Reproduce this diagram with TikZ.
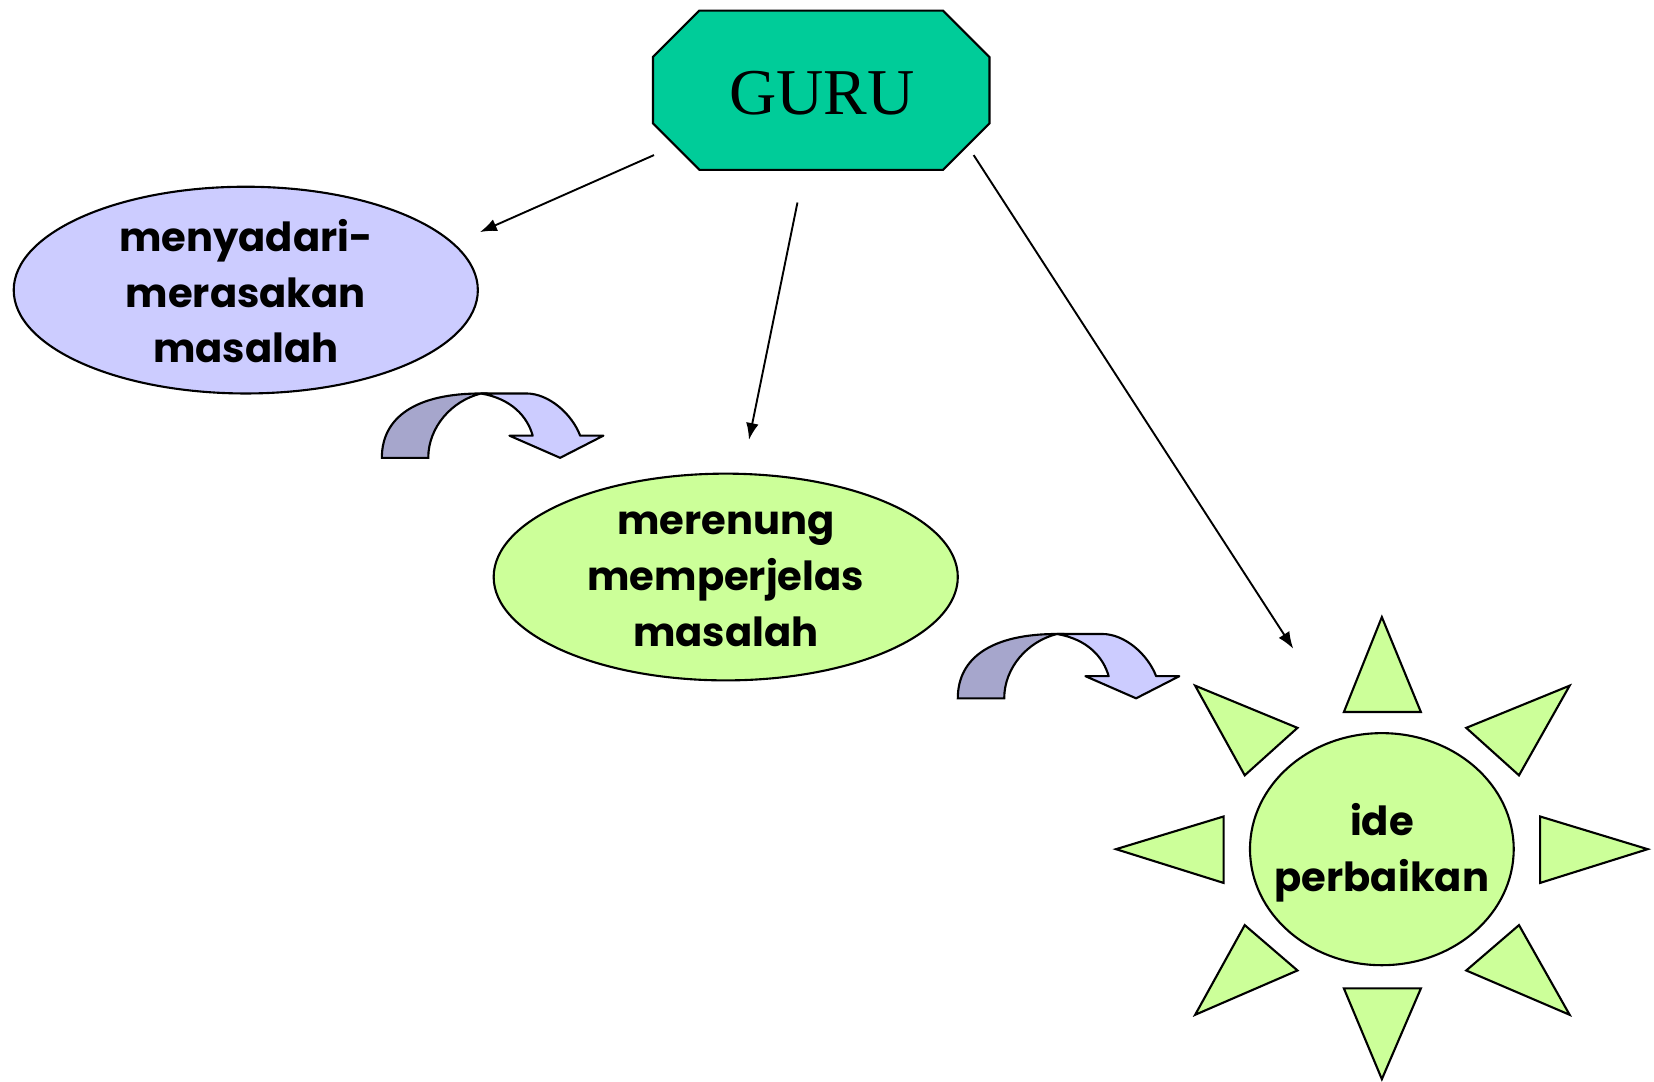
\documentclass[tikz,border=0pt]{standalone}
\usepackage{fontspec}
\setmainfont{Liberation Serif}
\newfontfamily\comicfont{Poppins}
\usetikzlibrary{arrows.meta}
\definecolor{guruGreen}{RGB}{0,204,153}
\definecolor{lilac}{RGB}{204,204,255}
\definecolor{lilacDark}{RGB}{166,166,204}
\definecolor{lime}{RGB}{204,255,153}
\tikzset{
  shapeline/.style={line width=1pt, draw=black},
  bubbletext/.style={inner sep=0.75pt, align=center, font=\comicfont\bfseries\fontsize{19}{26.5}\selectfont},
  arrowline/.style={line width=0.9pt, -{Latex[length=8pt,width=6pt]}},
}
\newcommand{\bentArrow}[1]{%
  \begin{scope}[shift={#1}]
  \draw [shapeline, fill=lilacDark] (362,434) .. controls (362,395) and (395,373) .. (456,373) .. controls (428,380) and (406,405) .. (406,434) -- cycle ;
  \draw [shapeline, fill=lilac, line join=round] (456,373) -- (499,373) .. controls (520,373) and (542,392) .. (550,413) -- (572,413) -- (531,434) -- (483,413) -- (505,413) .. controls (500,395) and (485,378) .. (456,373) -- cycle ;
  \end{scope}}

\begin{document}
\begin{tikzpicture}[x=0.5pt,y=0.5pt,yscale=-1,xscale=1]
\path [use as bounding box] (0,0) rectangle (1568,1025);

%Octagon
\draw [shapeline, fill=guruGreen] (663,10) -- (894,10) -- (938,54) -- (938,117) -- (894,161) -- (663,161) -- (619,117) -- (619,54) -- cycle ;
%Ellipses
\draw [shapeline, fill=lilac] (233,275) ellipse [x radius=220, y radius=98] ;
\draw [shapeline, fill=lime] (688,547) ellipse [x radius=220, y radius=98] ;
\draw [shapeline, fill=lime] (1310,805) ellipse [x radius=125, y radius=110] ;

%Sun rays
\draw [shapeline, fill=lime] (1310,585) -- (1347,675) -- (1274,675) -- cycle ;
\draw [shapeline, fill=lime] (1310,1023) -- (1347,937) -- (1274,937) -- cycle ;
\draw [shapeline, fill=lime] (1058,805) -- (1160,774) -- (1160,837) -- cycle ;
\draw [shapeline, fill=lime] (1562,805) -- (1460,774) -- (1460,837) -- cycle ;
\draw [shapeline, fill=lime] (1133,650) -- (1230,690) -- (1180,735) -- cycle ;
\draw [shapeline, fill=lime] (1488,650) -- (1390,690) -- (1440,735) -- cycle ;
\draw [shapeline, fill=lime] (1133,962) -- (1230,920) -- (1180,877) -- cycle ;
\draw [shapeline, fill=lime] (1488,962) -- (1390,920) -- (1440,877) -- cycle ;

%Bent arrows
\bentArrow{(0,0)}
\bentArrow{(546,228)}

% Text Node
\node [inner sep=0.75pt, font=\fontsize{31}{37}\selectfont] (guru) at (779,88) {GURU};
% Text Node
\node [bubbletext] (sadar) at (233,276) {menyadari-\\merasakan\\masalah};
% Text Node
\node [bubbletext] (renung) at (688,549) {merenung\\memperjelas\\masalah};
% Text Node
\node [bubbletext] (ide) at (1310,808) {ide\\perbaikan};

%Connector ends
\coordinate (g1) at (620,147) ;
\coordinate (g2) at (756,192) ;
\coordinate (g3) at (923,147) ;
\coordinate (e1) at (455,220) ;
\coordinate (e2) at (710,417) ;
\coordinate (e3) at (1226,615) ;
\draw [arrowline] (g1) -- (e1) ;
\draw [arrowline] (g2) -- (e2) ;
\draw [arrowline] (g3) -- (e3) ;
\end{tikzpicture}
\end{document}
